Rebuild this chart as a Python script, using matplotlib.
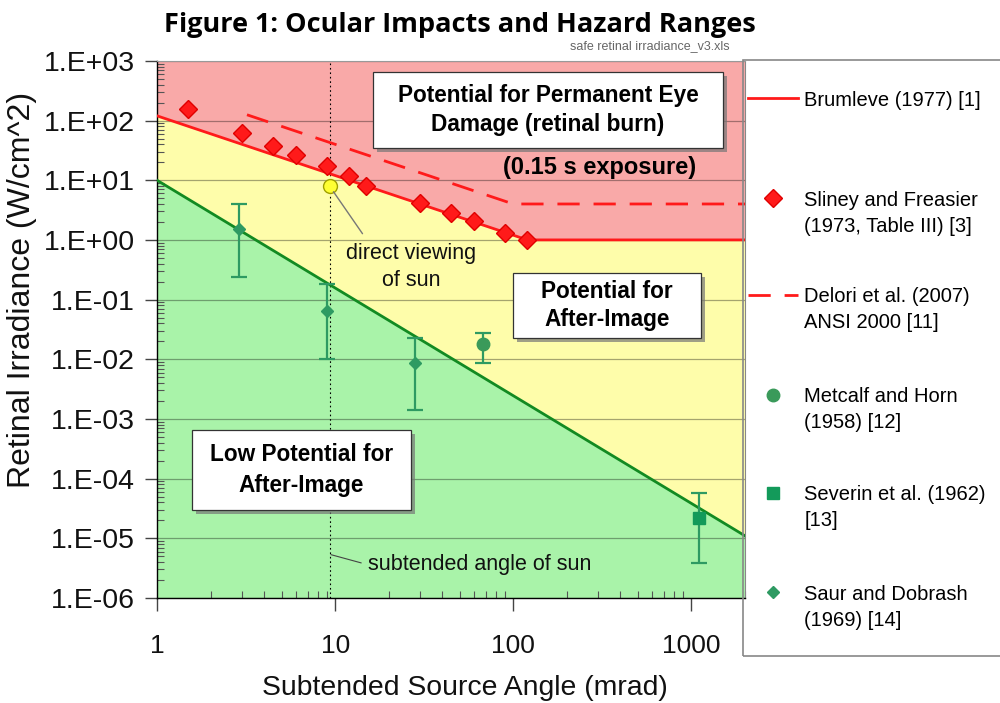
import matplotlib

matplotlib.use("Agg")

import matplotlib.pyplot as plt
import matplotlib.patheffects as pe
import numpy as np
from matplotlib.patches import Rectangle
from matplotlib.ticker import FixedLocator, FuncFormatter, LogLocator, NullFormatter

# threshold curves
brumleve_x = [1, 120, 2000]
brumleve_y = [120, 1, 1]
delori_x = [3.2, 100, 2000]
delori_y = [125, 4, 4]
afterimage_x = [1, 2000]
afterimage_y = [10, 1.1e-5]

# Sliney and Freasier (1973, Table III)
sliney_x = [1.5, 3, 4.5, 6, 9, 12, 15, 30, 45, 60, 90, 120]
sliney_y = [155, 63, 37, 26, 17, 12, 8, 4.2, 2.8, 2.1, 1.32, 1.0]

# after-image data with ranges
saur_x = np.array([2.9, 9.0, 28])
saur_y = np.array([1.5, 0.065, 0.0085])
saur_lo = np.array([0.24, 0.010, 0.0014])
saur_hi = np.array([4.0, 0.18, 0.023])

metcalf_x = np.array([68])
metcalf_y = np.array([0.018])
metcalf_lo = np.array([0.0085])
metcalf_hi = np.array([0.028])

severin_x = np.array([1100])
severin_y = np.array([2.2e-5])
severin_lo = np.array([3.8e-6])
severin_hi = np.array([5.8e-5])

sun_x = [9.3]
sun_y = [8]
sun_angle = 9.3

x_ticks = [1, 10, 100, 1000]

RED_BG = "#F9A9A8"
YELLOW_BG = "#FEFDAA"
GREEN_BG = "#A9F3A9"
DATA_GREEN = "#2E9A62"
FONT = "Liberation Sans"

fig = plt.figure(figsize=(10, 7.03), dpi=100)
ax = fig.add_axes([0.157, 0.1494, 0.588, 0.764])
ax.set_xscale("log")
ax.set_yscale("log")
ax.set_xlim(1, 2000)
ax.set_ylim(1e-6, 1e3)

# hazard zones
ax.set_facecolor(RED_BG)
ax.fill_between(brumleve_x, brumleve_y, 1e-6, color=YELLOW_BG, lw=0, zorder=0.5)
ax.fill_between(afterimage_x, afterimage_y, 1e-6, color=GREEN_BG, lw=0, zorder=0.6)

ax.yaxis.grid(True, which="major", color="black", alpha=0.35, lw=0.9, zorder=0.8)
ax.axvline(sun_angle, color="black", ls=(0, (1.5, 2.5)), lw=0.8, zorder=1)

ln_brum, = ax.plot(brumleve_x, brumleve_y, color="#FF1A1A", lw=2, zorder=3)
ln_del, = ax.plot(delori_x, delori_y, color="#FF1A1A", lw=2, ls=(0, (8, 5)), zorder=3)
ax.plot(afterimage_x, afterimage_y, color="#128A22", lw=2, zorder=3)
mk_sliney, = ax.plot(sliney_x, sliney_y, "D", color="#FF1A1A", ms=9, mec="#E00000", zorder=4)

err_kw = dict(ecolor=DATA_GREEN, elinewidth=1.6, capsize=6, capthick=1.6, zorder=4, ls="none")
eb_saur = ax.errorbar(saur_x, saur_y, yerr=[saur_y - saur_lo, saur_hi - saur_y],
                      fmt="D", color=DATA_GREEN, ms=6, **err_kw)
eb_met = ax.errorbar(metcalf_x, metcalf_y, yerr=[metcalf_y - metcalf_lo, metcalf_hi - metcalf_y],
                     fmt="o", color="#3A9A5A", ms=9, **err_kw)
eb_sev = ax.errorbar(severin_x, severin_y, yerr=[severin_y - severin_lo, severin_hi - severin_y],
                     fmt="s", color="#139A5A", ms=9, **err_kw)
ax.plot(sun_x, sun_y, "o", color="#FFFF33", mec="#A0A000", ms=10, zorder=5)

# axes styling
for side in ["left", "bottom"]:
    ax.spines[side].set_color("black")
    ax.spines[side].set_linewidth(1)
ax.spines["top"].set_color("#999999")
ax.spines["right"].set_color("#888888")

ax.xaxis.set_major_locator(FixedLocator(x_ticks))
ax.xaxis.set_major_formatter(FuncFormatter(lambda v, p: f"{v:g}"))
ax.xaxis.set_minor_locator(LogLocator(subs=np.arange(2, 10)))
ax.xaxis.set_minor_formatter(NullFormatter())
ax.yaxis.set_major_locator(LogLocator(numticks=12))
ax.yaxis.set_major_formatter(FuncFormatter(lambda v, p: f"1.E{int(round(np.log10(v))):+03d}"))
ax.yaxis.set_minor_locator(LogLocator(subs=np.arange(2, 10), numticks=12))
ax.yaxis.set_minor_formatter(NullFormatter())
ax.tick_params(which="major", direction="out", length=9, width=1,
               labelcolor="#111111", color="#444444")
ax.tick_params(which="minor", direction="in", length=5, width=0.8, color="#555555")
ax.tick_params(axis="x", which="major", pad=17, labelsize=19)
ax.tick_params(axis="y", which="major", pad=7, labelsize=20.5)

fig.text(0.465, 0.021, "Subtended Source Angle (mrad)", ha="center", va="center", fontsize=20.4,
         family=FONT, color="#111111")
fig.text(0.022, 0.587, "Retinal Irradiance (W/cm^2)", ha="center", va="center", rotation=90,
         fontsize=23, family=FONT, color="#111111")
for t in ax.get_xticklabels() + ax.get_yticklabels():
    t.set_family(FONT)

fig.text(0.46, 0.965, "Figure 1: Ocular Impacts and Hazard Ranges", ha="center", va="center",
         fontsize=19.5, fontweight="bold", family="Open Sans")
fig.text(0.65, 0.935, "safe retinal irradiance_v3.xls", ha="center", va="center",
         fontsize=9, color="#666666", family=FONT)

# zone labels: box corners in axes fraction, then text
shadow = [pe.SimplePatchShadow(offset=(3, -3), shadow_rgbFace="#777777", alpha=0.7), pe.Normal()]
zone_boxes = [
    ((0.367, 0.838, 0.596, 0.1415), "Potential for Permanent Eye\nDamage (retinal burn)", 1.35),
    ((0.605, 0.484, 0.320, 0.121), "Potential for\nAfter-Image", 1.25),
    ((0.0595, 0.164, 0.3725, 0.149), "Low Potential for\nAfter-Image", 1.45),
]
for (x0, y0, w, h), txt, lsp in zone_boxes:
    box = Rectangle((x0, y0), w, h, transform=ax.transAxes, fc="white", ec="#333333",
                    lw=0.9, zorder=6)
    box.set_path_effects(shadow)
    ax.add_patch(box)
    ax.text(x0 + w / 2, y0 + h / 2, txt, transform=ax.transAxes, ha="center", va="center",
            fontsize=16.3, fontweight="bold", family=FONT, linespacing=lsp, zorder=7)
ax.text(0.752, 0.801, "(0.15 s exposure)", transform=ax.transAxes, ha="center", va="center",
        fontsize=17, fontweight="bold", family=FONT, zorder=6)

ax.annotate("direct viewing\nof sun", xy=(sun_x[0], sun_y[0]), xytext=(26.6, 0.35),
            ha="center", va="center", fontsize=15.5, family=FONT, color="#111111",
            linespacing=1.35,
            arrowprops=dict(arrowstyle="-", color="#777777", lw=1, relpos=(0.18, 1.0),
                            shrinkA=6, shrinkB=5), zorder=6)
ax.annotate("subtended angle of sun", xy=(sun_angle, 5.4e-6), xytext=(15.3, 3.6e-6),
            ha="left", va="center", fontsize=15.5, family=FONT, color="#111111",
            arrowprops=dict(arrowstyle="-", color="#444444", lw=0.8, relpos=(0, 0.5),
                            shrinkA=3, shrinkB=1), zorder=6)

# legend panel
fig.patches.append(Rectangle((0.743, 0.067), 0.3, 0.848, transform=fig.transFigure,
                             fill=False, ec="#888888", lw=1.2))
legend_items = [
    (ln_brum, "Brumleve (1977) [1]", "", 100),
    (mk_sliney, "Sliney and Freasier", "(1973, Table III) [3]", 200),
    (ln_del, "Delori et al. (2007)", "ANSI 2000 [11]", 297),
    (eb_met.lines[0], "Metcalf and Horn", "(1958) [12]", 397),
    (eb_sev.lines[0], "Severin et al. (1962)", "[13]", 495),
    (eb_saur.lines[0], "Saur and Dobrash", "(1969) [14]", 594),
]
fig.canvas.draw()
renderer = fig.canvas.get_renderer()
for handle, line1, line2, ypx in legend_items:
    yf = 1 - ypx / 703
    leg = fig.legend([handle], [line1], loc="center left", bbox_to_anchor=(0.748, yf),
                     frameon=False, borderpad=0, borderaxespad=0, handlelength=2.5,
                     handletextpad=0.3, prop=dict(family=FONT, size=14.5))
    if line2:
        fig.canvas.draw()
        bb = leg.get_texts()[0].get_window_extent(renderer)
        fig.text(bb.x0 / fig.bbox.width, yf - 26 / 703, line2, ha="left", va="center",
                 fontsize=14.5, family=FONT)

fig.savefig("out.png", dpi=100)
